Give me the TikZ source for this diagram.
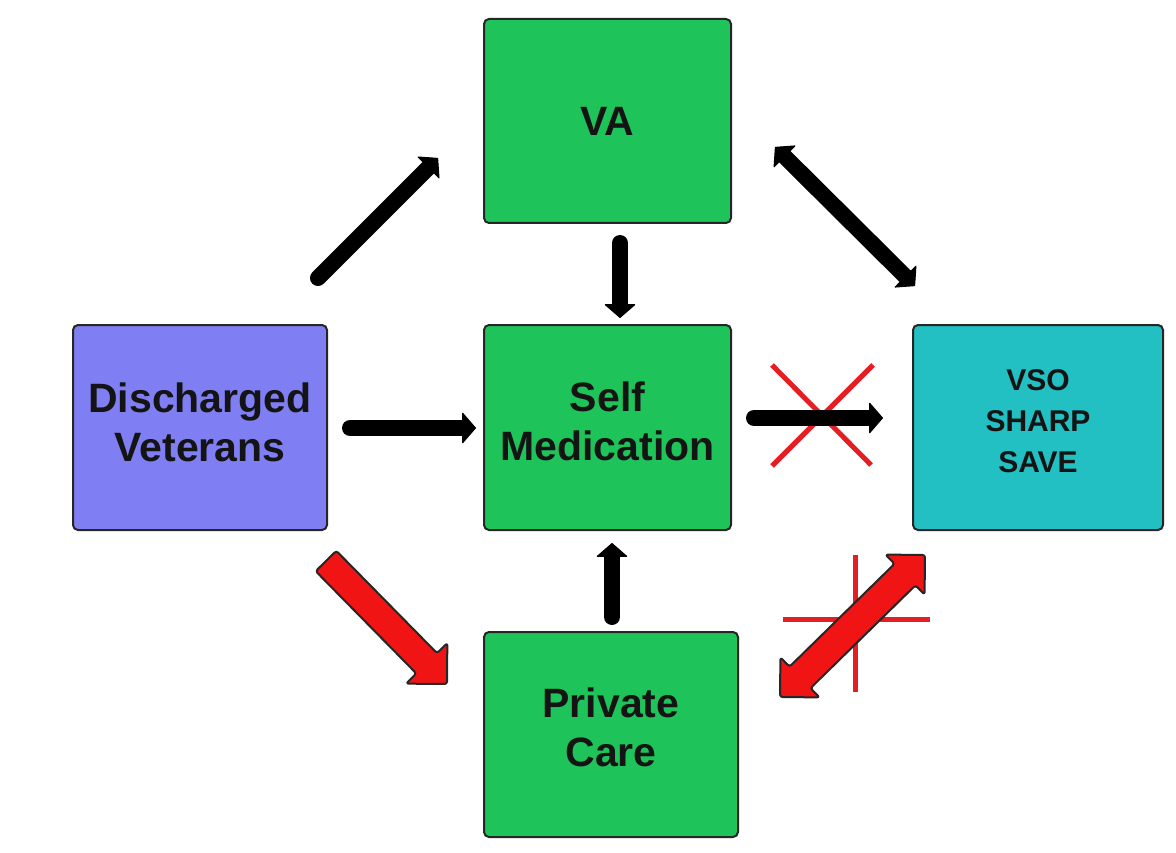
\documentclass[tikz,border=0pt]{standalone}
\usepackage{fontspec}
\setmainfont{Liberation Sans}
\usetikzlibrary{calc,arrows.meta}
\definecolor{boxgreen}{HTML}{1EC45A}
\definecolor{boxpurple}{HTML}{7F7FF3}
\definecolor{boxteal}{HTML}{22BFC3}
\definecolor{arrred}{HTML}{F01414}
\definecolor{xred}{HTML}{E31E24}
\newcommand\oneheadarrow[6]{%
 \coordinate (hb) at ($(#3)!#6!(#2)$);
 \draw[#1] ($(#2)!#4!90:(#3)$) -- ($(hb)!#4!-90:(#2)$) -- ($(hb)!#5!-90:(#2)$) -- (#3) -- ($(hb)!#5!90:(#2)$) -- ($(hb)!#4!90:(#2)$) -- ($(#2)!#4!-90:(#3)$) -- cycle;}
\newcommand\twoheadarrow[6]{%
 \coordinate (ha) at ($(#2)!#6!(#3)$);
 \coordinate (hb) at ($(#3)!#6!(#2)$);
 \draw[#1] (#2) -- ($(ha)!#5!90:(#3)$) -- ($(ha)!#4!90:(#3)$) -- ($(hb)!#4!-90:(#2)$) -- ($(hb)!#5!-90:(#2)$) -- (#3) -- ($(hb)!#5!90:(#2)$) -- ($(hb)!#4!90:(#2)$) -- ($(ha)!#4!-90:(#3)$) -- ($(ha)!#5!-90:(#3)$) -- cycle;}
\begin{document}
\begin{tikzpicture}[x=1pt,y=-1pt,
  box/.style={draw=black!85,line width=2pt,rounded corners=5pt,inner sep=0pt,align=center,
    font=\fontsize{41}{49}\selectfont\bfseries,text=black!92},
  blk/.style={line width=16pt,line cap=round,-{Triangle[length=14pt,width=32pt,line width=1pt,round]}},
  blk2/.style={line width=16pt,{Triangle[length=14pt,width=32pt,line width=1pt,round]}-{Triangle[length=14pt,width=32pt,line width=1pt,round]}},
  redarrow/.style={fill=arrred,draw=black!85,line width=2pt,rounded corners=2.5pt,line join=round},
  xline/.style={draw=xred,line width=5pt}]
\useasboundingbox (0,0) rectangle (1176,853);
\fill[white] (0,0) rectangle (1176,853);
% boxes
\node[box,fill=boxgreen,minimum width=247pt,minimum height=204pt] (va) at (607.5,121) {VA};
\node[box,fill=boxgreen,minimum width=247pt,minimum height=205pt,text depth=12pt] (self) at (607.5,427.5) {Self\\Medication};
\node[box,fill=boxpurple,minimum width=254pt,minimum height=205pt,text depth=10pt] (vet) at (200,427.5) {Discharged\\Veterans};
\node[box,fill=boxteal,minimum width=250pt,minimum height=205pt,text depth=13pt,font=\fontsize{30}{41}\selectfont\bfseries] (vso) at (1038,427.5) {VSO\\SHARP\\SAVE};
\node[box,fill=boxgreen,minimum width=254pt,minimum height=205pt,text depth=14pt] (priv) at (611,734.5) {Private\\Care};
% connector end points
\coordinate (vetVaS) at (318,278);
\coordinate (vetVaE) at (438,158);
\coordinate (vaSelfS) at (620,243);
\coordinate (vaSelfE) at (620,318);
\coordinate (vaVsoS) at (775,147);
\coordinate (vaVsoE) at (915,286);
\coordinate (vetSelfS) at (350,428);
\coordinate (vetSelfE) at (476,428);
\coordinate (selfVsoS) at (754,418);
\coordinate (selfVsoE) at (883,418);
\coordinate (privSelfS) at (612,617);
\coordinate (privSelfE) at (612,543);
\coordinate (vetPrivS) at (326,561);
\coordinate (vetPrivE) at (447,684);
\coordinate (privVsoS) at (780,697);
\coordinate (privVsoE) at (925,555);
% black arrows
\draw[blk] (vetVaS) -- (vetVaE);
\draw[blk] (vaSelfS) -- (vaSelfE);
\draw[blk2] (vaVsoS) -- (vaVsoE);
\draw[blk] (vetSelfS) -- (vetSelfE);
\draw[blk] (privSelfS) -- (privSelfE);
% crossed arrow self -> vso
\draw[xline] (772,365) -- (871,465);
\draw[xline] (873,365) -- (772,466);
\draw[blk] (selfVsoS) -- (selfVsoE);
% red block arrows
\oneheadarrow{redarrow}{vetPrivS}{vetPrivE}{14.5pt}{29pt}{29pt}
\draw[xline] (855,555) -- (855,692);
\draw[xline] (783,619) -- (930,619);
\twoheadarrow{redarrow}{privVsoS}{privVsoE}{15pt}{28pt}{28pt}
\end{tikzpicture}
\end{document}
